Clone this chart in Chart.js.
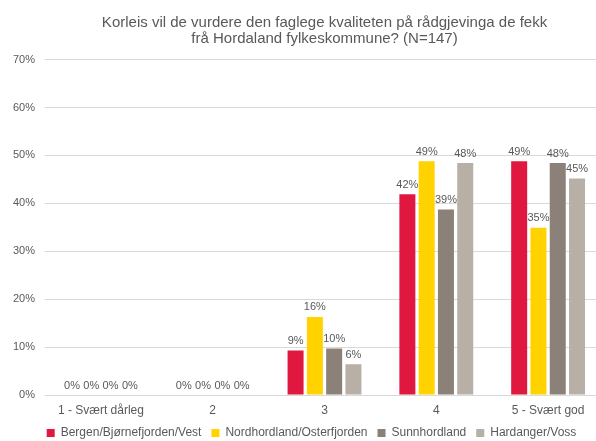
<!DOCTYPE html>
<html>
<head>
<meta charset="utf-8">
<script src="https://cdn.jsdelivr.net/npm/chart.js@4.4.0/dist/chart.umd.min.js"></script>
<style>
  html, body { margin: 0; padding: 0; background: #fff; overflow: hidden; }
  #wrap { width: 604px; height: 441px; }
</style>
</head>
<body>
<div id="wrap"><canvas id="chart"></canvas></div>
<script>
// answer categories
let categories = ["1 - Svært dårleg", "2", "3", "4", "5 - Svært god"];
// share of answers per region (%)
let bergen = [0, 0, 9.3, 41.9, 48.8];
let nordhordland = [0, 0, 16.3, 48.8, 34.9];
let sunnhordland = [0, 0, 9.7, 38.7, 48.4];
let hardanger = [0, 0, 6.4, 48.4, 45.2];
let regions = ["Bergen/Bjørnefjorden/Vest", "Nordhordland/Osterfjorden", "Sunnhordland", "Hardanger/Voss"];
let yTicks = [0, 10, 20, 30, 40, 50, 60, 70];

let textColor = "#595959";
let fontFamily = "'Liberation Sans', Arial, sans-serif";

// draw the % above every bar
let barLabels = {
  id: "barLabels",
  afterDatasetsDraw: (chart) => {
    let ctx = chart.ctx;
    ctx.save();
    ctx.font = "11px " + fontFamily;
    ctx.fillStyle = textColor;
    ctx.textAlign = "center";
    ctx.textBaseline = "bottom";
    chart.data.datasets.forEach((ds, i) => {
      chart.getDatasetMeta(i).data.forEach((bar, j) => {
        ctx.fillText(Math.round(ds.data[j]) + "%", bar.x, bar.y - 4);
      });
    });
    ctx.restore();
  }
};

// keep the legend short so the plot gets the room, and nudge it a bit right
let shortLegend = {
  id: "shortLegend",
  beforeInit: (chart) => {
    let fit = chart.legend.fit;
    chart.legend.fit = function () {
      fit.bind(chart.legend)();
      this.height = 24;
    };
  },
  afterLayout: (chart) => {
    chart.legend.left += 8;
    chart.legend.right += 8;
  }
};

let chart = document.querySelector("#chart");
new Chart(chart, {
  type: "bar",
  data: {
    labels: categories,
    datasets: [
      { label: regions[0], data: bergen, backgroundColor: "#E0173F" },
      { label: regions[1], data: nordhordland, backgroundColor: "#FFD200" },
      { label: regions[2], data: sunnhordland, backgroundColor: "#8B8178" },
      { label: regions[3], data: hardanger, backgroundColor: "#B8AFA6" }
    ]
  },
  options: {
    responsive: true,
    maintainAspectRatio: false,
    animation: false,
    datasets: { bar: { categoryPercentage: 0.69, barPercentage: 0.83 } },
    layout: { padding: { left: 3, right: 0, top: 14, bottom: 0 } },
    scales: {
      x: {
        grid: { display: false, drawTicks: false },
        border: { color: "#d9d9d9" },
        ticks: { color: textColor, font: { family: fontFamily, size: 12 }, padding: 8 },
        afterFit: (scale) => { scale.height = 22; }
      },
      y: {
        min: 0,
        max: 70,
        afterBuildTicks: (axis) => { axis.ticks = yTicks.map(v => ({ value: v })); },
        grid: { color: "#d9d9d9", drawTicks: false },
        border: { display: false },
        ticks: { color: textColor, font: { family: fontFamily, size: 11 }, padding: 10, callback: v => v + "%" }
      }
    },
    plugins: {
      title: {
        display: true,
        fullSize: false,
        text: ["Korleis vil de vurdere den faglege kvaliteten på rådgjevinga de fekk", "frå Hordaland fylkeskommune? (N=147)"],
        color: textColor,
        font: { family: fontFamily, size: 15, weight: "normal", lineHeight: 1.12 },
        padding: { top: 0, bottom: 12 }
      },
      legend: {
        position: "bottom",
        labels: {
          color: textColor,
          font: { family: fontFamily, size: 12 },
          boxWidth: 8,
          boxHeight: 8,
          padding: 10
        }
      },
      tooltip: { enabled: false }
    }
  },
  plugins: [barLabels, shortLegend]
});
</script>
</body>
</html>
